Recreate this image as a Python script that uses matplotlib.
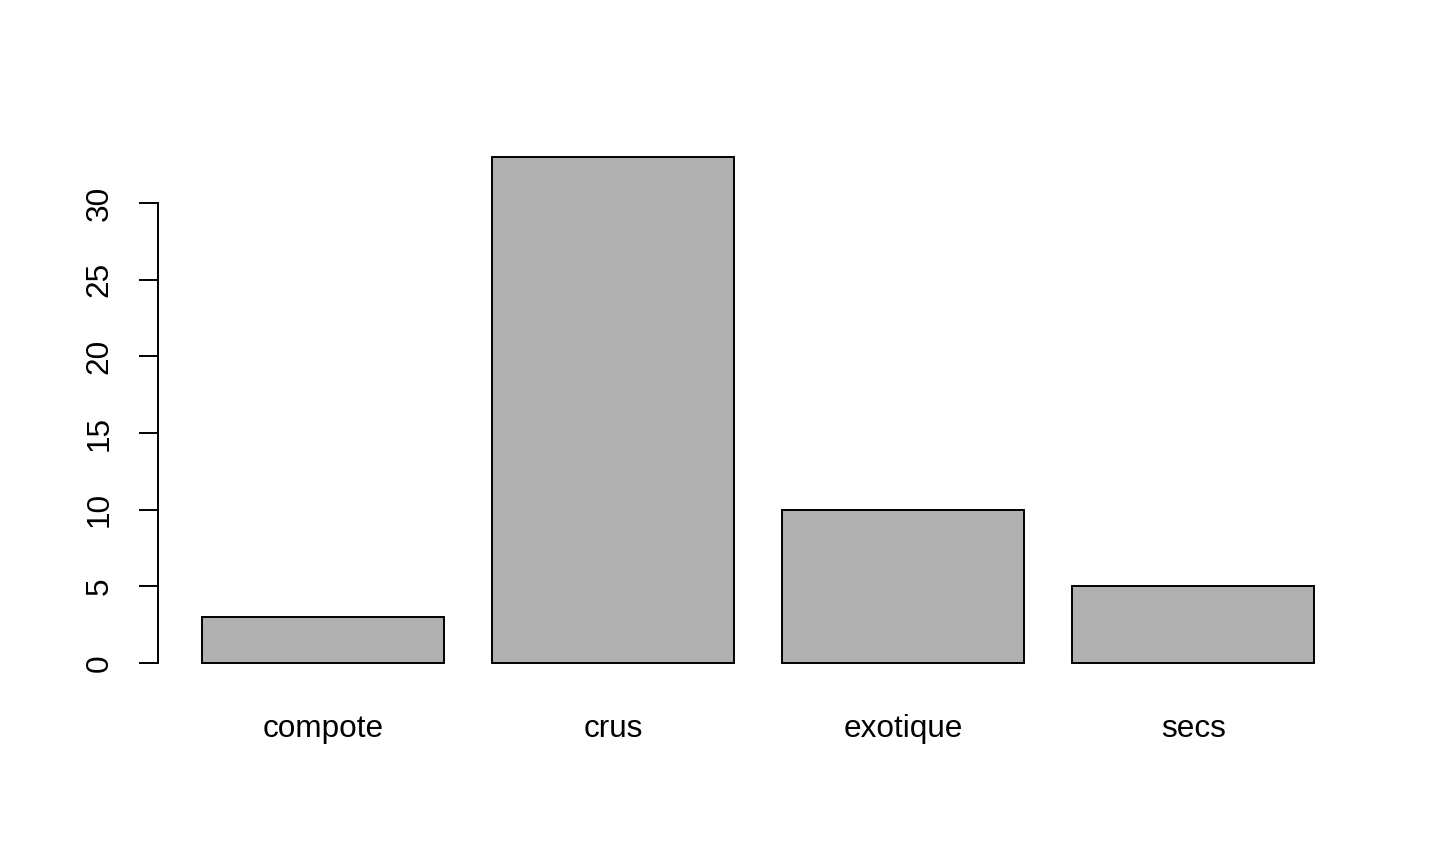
import matplotlib
matplotlib.use('Agg')
import matplotlib.pyplot as plt

categories = ['compote', 'crus', 'exotique', 'secs']
counts = [3, 33, 10, 5]
y_ticks = [0, 5, 10, 15, 20, 25, 30]

plt.rcParams['font.family'] = ['Liberation Sans', 'DejaVu Sans']

fig = plt.figure(figsize=(14.4, 8.64), dpi=100)
ax = fig.add_axes([0.1094, 0.2093, 0.834, 0.6324])

# R barplot layout: width 1, space 0.2
lefts = [0.2 + i * 1.2 for i in range(len(categories))]
centers = [l + 0.5 for l in lefts]
ax.bar(centers, counts, width=1.0, color='#b0b0b0', edgecolor='black', linewidth=1.4)

ax.set_xlim(0.016, 4.984)
ax.set_ylim(-1.32, 34.32)

for side in ['top', 'right', 'bottom']:
    ax.spines[side].set_visible(False)
ax.spines['left'].set_bounds(0, 30)
ax.spines['left'].set_linewidth(1.4)

ax.set_yticks(y_ticks)
ax.set_yticklabels([str(v) for v in y_ticks], rotation=90, va='center', fontsize=22.7)
ax.tick_params(axis='y', length=14, width=1.4, pad=17)

ax.set_xticks(centers)
ax.set_xticklabels(categories, fontsize=22.7)
ax.tick_params(axis='x', length=0, pad=22.5)

fig.savefig('out.png', dpi=100)
